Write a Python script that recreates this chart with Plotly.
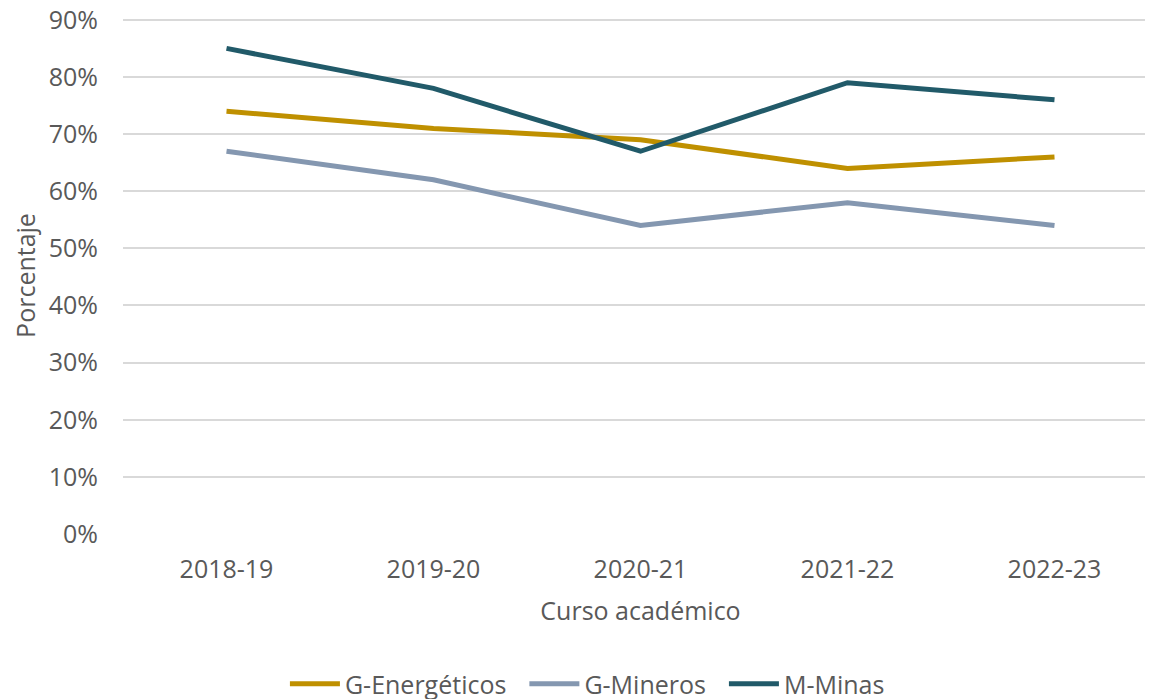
import plotly.graph_objects as go

cursos = ["2018-19", "2019-20", "2020-21", "2021-22", "2022-23"]
g_energeticos = [0.74, 0.71, 0.69, 0.64, 0.66]
g_mineros = [0.67, 0.62, 0.54, 0.58, 0.54]
m_minas = [0.85, 0.78, 0.67, 0.79, 0.76]

series = [
    ("G-Energéticos", g_energeticos, "#BF9000"),
    ("G-Mineros", g_mineros, "#8497B0"),
    ("M-Minas", m_minas, "#215A69"),
]

fig = go.Figure()
for name, vals, color in series:
    fig.add_trace(go.Scatter(
        x=cursos, y=vals, name=name + "  ", mode="lines",
        line=dict(color=color, width=5),
    ))

font_family = "Open Sans"
fs = 25
fig.update_layout(
    width=1153, height=699,
    paper_bgcolor="white", plot_bgcolor="white",
    margin=dict(l=115, r=3, t=9, b=173),
    font=dict(family=font_family, color="#595959", size=fs),
    xaxis=dict(
        title=dict(text="Curso académico", font=dict(size=fs), standoff=18),
        range=[-0.5, 4.5],
        showgrid=False, showline=False, zeroline=False,
        tickfont=dict(size=fs), ticks="", ticklabelstandoff=18,
        automargin=False,
    ),
    yaxis=dict(
        title=dict(text="Porcentaje", font=dict(size=fs), standoff=6),
        range=[0, 0.905], tickmode="linear", tick0=0, dtick=0.1,
        tickformat=".0%",
        showgrid=True, gridcolor="#D9D9D9", gridwidth=2,
        zeroline=False, showline=False, ticks="",
        tickfont=dict(size=fs), ticklabelstandoff=24,
        ticklabeloverflow="allow",
        automargin=False,
    ),
    legend=dict(
        orientation="h", x=0.455, xanchor="center",
        yref="container", y=0, yanchor="bottom",
        font=dict(size=fs), itemwidth=50, tracegroupgap=0,
    ),
)

fig.write_html("out.html")
